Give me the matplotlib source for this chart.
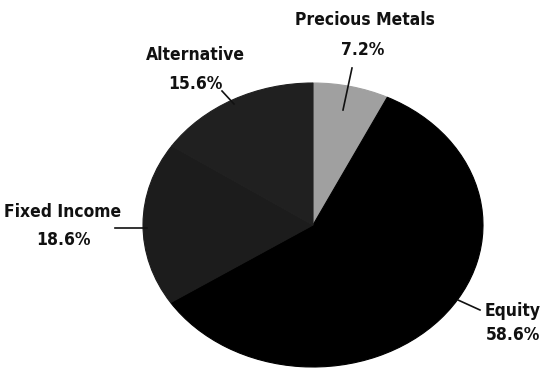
import matplotlib
matplotlib.use("Agg")
import matplotlib.pyplot as plt
from matplotlib import font_manager

# data (clockwise from 12 o'clock)
labels = ["Precious Metals", "Equity", "Fixed Income", "Alternative"]
shares = [7.2, 58.6, 18.6, 15.6]
colors = ["#a0a0a0", "#000000", "#1c1c1c", "#202020"]

W, H = 545, 370
CX, CY, RX, RY = 313, 225, 170, 142   # pie centre / radii in pixels


def px(x, y):
    # pixel (from top-left) -> data coords of the unit pie
    return ((x - CX) / RX, (CY - y) / RY)


fig = plt.figure(figsize=(W / 100, H / 100), dpi=100)
ax = fig.add_axes([0, 0, 1, 1])
wedges, _ = ax.pie(shares, colors=colors, startangle=90, counterclock=False,
                   radius=1, center=(0, 0))
for w in wedges:
    w.set_edgecolor(w.get_facecolor())
    w.set_linewidth(0.8)
ax.set_aspect("auto")
ax.set_xlim(-CX / RX, (W - CX) / RX)
ax.set_ylim(-(H - CY) / RY, CY / RY)
ax.axis("off")

# narrow condensed face, closest to the scanned original
fp = font_manager.FontProperties(family="DejaVu Sans", stretch="condensed",
                                 weight="bold", size=12.5)
txt = dict(ha="center", va="center", fontproperties=fp, color="#111")

# label text positions (pixel centres) and leader lines
lab_pos = {
    "Precious Metals": ((365, 20), (363, 50), (352, 68), (343, 110)),
    "Alternative": ((195, 55), (195, 84), (222, 91), (234, 104)),
    "Fixed Income": ((63, 212), (63, 240), (115, 228), (147, 228)),
    "Equity": ((513, 311), (513, 335), (458, 300), (480, 310)),
}
for name, pct in zip(labels, shares):
    (nx, ny), (vx, vy), (l0x, l0y), (l1x, l1y) = lab_pos[name]
    ax.text(*px(nx, ny), name, **txt)
    ax.text(*px(vx, vy), f"{pct}%", **txt)
    a, b = px(l0x, l0y), px(l1x, l1y)
    ax.plot([a[0], b[0]], [a[1], b[1]], color="#111", lw=1.2)

fig.savefig("out.png", dpi=100, facecolor="white")
